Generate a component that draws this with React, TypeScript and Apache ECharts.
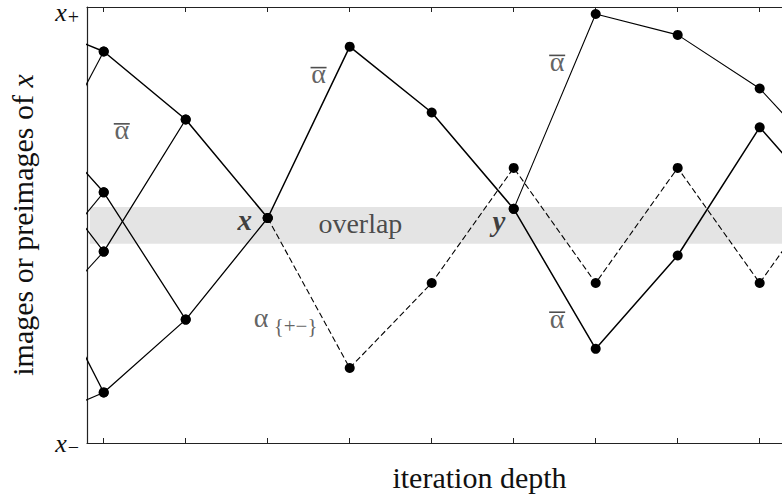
import { useEffect, useRef } from "react";
import * as echarts from "echarts";

// Iteration depths that carry tick marks
const depthTicks = [0, 1, 2, 3, 4, 5, 6, 7, 8];
const depthRange = [-0.204, 8.272];

// Vertical scale: 0 = x−, 100 = x+ (the x+ label is nudged just below the frame)
const valueRange = [0, 100];
const valueLabelPositions = [0, 98.7];
const valueLabels = ["x−", "x+"];

// Orbit through x and y (thick path)
const mainOrbit = [
  [-1, 97.4], [0, 89.8], [1, 74.2], [2, 51.6], [3, 90.9], [4, 75.8],
  [5, 53.7], [6, 21.6], [7, 43.0], [8, 72.4], [9, 51.0],
];
// Preimage branches on the left
const branchA = [[-1, 54.2], [0, 89.8]];
const branchB = [[-1, 78.5], [0, 57.5], [1, 28.3], [2, 51.6]];
const branchC = [[-1, 34.6], [0, 57.5]];
const branchD = [[-1, 68.4], [0, 43.9], [1, 74.2]];
const branchE = [[-1, 23.3], [0, 43.9]];
const branchF = [[-1, 48.4], [0, 11.6], [1, 28.3]];
const branchG = [[-1, 3.4], [0, 11.6]];
// Upper orbit leaving y
const upperOrbit = [[5, 53.7], [6, 98.4], [7, 93.6], [8, 81.3], [9, 61.0]];
// Dashed alternating orbit alpha_{+-}
const alternatingOrbit = [
  [2, 51.6], [3, 17.2], [4, 36.7], [5, 63.1], [6, 36.7], [7, 63.1], [8, 36.7], [9, 63.1],
];
// Overlap band limits
const overlapBand = [45.7, 54.1];
const overlapStart = -0.17;

// Annotation anchors [depth, value]; the alpha-bar anchors sit on the bar
const alphaBarAnchors = [[0.22, 73.2], [2.62, 86.1], [5.53, 88.9], [5.53, 30.0]];
const pointLabels = [
  { pos: [1.72, 51.2], text: "x" },
  { pos: [4.82, 51.0], text: "y" },
];
const overlapLabel = { pos: [3.13, 50.4], text: "overlap" };
const alphaLabel = { pos: [1.92, 28.7], text: "α" };
const alphaSubLabel = { pos: [2.34, 26.9], text: "{+−}" };

const SERIF = "'Liberation Serif', 'Times New Roman', serif";
const INK = "#000";
const TEXT_GREY = "#3a3a3a";

function lineSeries(data: number[][], width: number, dashed = false) {
  return {
    type: "line",
    data,
    clip: true,
    z: 3,
    symbol: "circle",
    symbolSize: 10,
    showSymbol: true,
    silent: true,
    itemStyle: { color: INK },
    lineStyle: { color: INK, width, type: dashed ? [6, 3] : "solid" },
  };
}

function textSeries(pos: number[], text: string, style: any) {
  return {
    type: "scatter",
    z: 5,
    silent: true,
    symbolSize: 0,
    data: [{ value: pos, name: text }],
    label: {
      show: true,
      position: "inside",
      formatter: (p: any) => p.name,
      ...style,
    },
  };
}

export default function App() {
  const ref = useRef<HTMLDivElement>(null);

  useEffect(() => {
    if (!ref.current) return;
    const chart = echarts.init(ref.current, undefined, { renderer: "svg" });

    const sharedX = {
      type: "value",
      min: depthRange[0],
      max: depthRange[1],
      axisLine: { show: true, onZero: false, lineStyle: { color: "#222", width: 1.2 } },
      axisTick: {
        show: true,
        inside: true,
        length: 5,
        customValues: depthTicks,
        lineStyle: { color: "#222", width: 1 },
      },
      axisLabel: { show: false },
      splitLine: { show: false },
    };

    chart.setOption({
      animation: false,
      grid: { left: 87, right: 0, top: 7, bottom: 55, outerBoundsMode: "none", containLabel: false },
      xAxis: [
        {
          ...sharedX,
          position: "bottom",
          name: "iteration depth",
          nameLocation: "middle",
          nameGap: 19,
          nameTextStyle: {
            fontFamily: SERIF,
            fontSize: 30,
            color: "#111",
            padding: [0, 0, 0, 90],
          },
        },
        { ...sharedX, position: "top" },
      ],
      yAxis: {
        type: "value",
        min: valueRange[0],
        max: valueRange[1],
        axisLine: { show: true, onZero: false, lineStyle: { color: "#222", width: 1.2 } },
        axisTick: { show: false },
        splitLine: { show: false },
        axisLabel: {
          show: true,
          customValues: valueLabelPositions,
          margin: 8,
          formatter: (v: number) => {
            const s = v > 50 ? valueLabels[1] : valueLabels[0];
            return `{x|${s[0]}}{s|${s[1]}}`;
          },
          rich: {
            x: { fontFamily: SERIF, fontStyle: "italic", fontSize: 26, color: "#111", lineHeight: 20 },
            s: { fontFamily: SERIF, fontSize: 20, color: "#111", lineHeight: 20, padding: [8, 0, 0, 1] },
          },
        },
        name: "{r|images or preimages of }{i|x}",
        nameLocation: "middle",
        nameRotate: 90,
        nameGap: 50,
        nameTextStyle: {
          rich: {
            r: { fontFamily: SERIF, fontSize: 30, color: "#111" },
            i: { fontFamily: SERIF, fontSize: 30, fontStyle: "italic", color: "#111" },
          },
        },
      },
      series: [
        {
          type: "line",
          data: [[overlapStart, 50], [depthRange[1], 50]],
          symbol: "none",
          z: 1,
          silent: true,
          lineStyle: { opacity: 0 },
          markArea: {
            silent: true,
            itemStyle: { color: "#e4e4e4" },
            data: [[
              { coord: [overlapStart, overlapBand[0]] },
              { coord: [depthRange[1], overlapBand[1]] },
            ]],
          },
        },
        lineSeries(alternatingOrbit, 1.1, true),
        lineSeries(branchA, 1.1),
        lineSeries(branchB, 1.3),
        lineSeries(branchC, 1.1),
        lineSeries(branchD, 1.3),
        lineSeries(branchE, 1.1),
        lineSeries(branchF, 1.3),
        lineSeries(branchG, 1.1),
        lineSeries(upperOrbit, 1.1),
        lineSeries(mainOrbit, 1.5),
        {
          // alpha with an overline: the bar is the symbol, alpha sits just below it
          type: "scatter",
          z: 5,
          silent: true,
          symbol: "rect",
          symbolSize: [16, 1.6],
          itemStyle: { color: "#222" },
          data: alphaBarAnchors.map((p) => ({ value: p })),
          label: {
            show: true,
            position: "inside",
            offset: [0, 6],
            formatter: "α",
            fontFamily: SERIF,
            fontSize: 28,
            color: TEXT_GREY,
          },
        },
        ...pointLabels.map((p) =>
          textSeries(p.pos, p.text, {
            fontFamily: SERIF,
            fontStyle: "italic",
            fontWeight: "bold",
            fontSize: 29,
            color: "#111",
          })
        ),
        textSeries(overlapLabel.pos, overlapLabel.text, {
          fontFamily: SERIF,
          fontSize: 28,
          color: "#222",
        }),
        textSeries(alphaLabel.pos, alphaLabel.text, {
          fontFamily: SERIF,
          fontSize: 28,
          color: TEXT_GREY,
        }),
        textSeries(alphaSubLabel.pos, alphaSubLabel.text, {
          fontFamily: SERIF,
          fontSize: 21,
          color: TEXT_GREY,
        }),
      ],
    });

    return () => chart.dispose();
  }, []);

  return (
    <div
      ref={ref}
      style={{ position: "absolute", left: 0, top: 0, width: 782, height: 498, background: "#fff" }}
    />
  );
}
